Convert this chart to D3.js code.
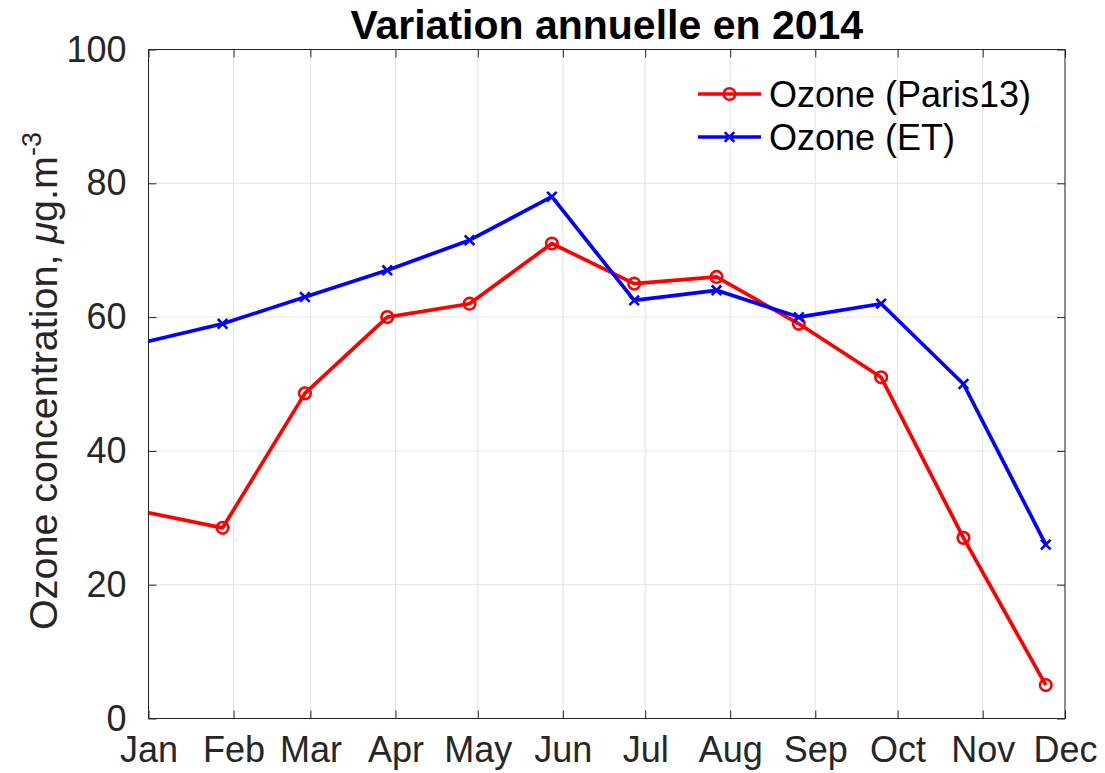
<!DOCTYPE html>
<html>
<head>
<meta charset="utf-8">
<script src="https://cdn.jsdelivr.net/npm/d3@7"></script>
<style>
  html, body { margin: 0; padding: 0; background: #fff; }
  svg text { font-family: "Liberation Sans", Arial, Helvetica, sans-serif; }
</style>
</head>
<body>
<svg id="chart" width="1105" height="773"></svg>
<script>
// ---- Data ----
const dates = ["2013-12-29", "2014-01-28", "2014-02-27", "2014-03-29", "2014-04-28", "2014-05-28",
               "2014-06-27", "2014-07-27", "2014-08-26", "2014-09-25", "2014-10-25", "2014-11-24"];
const ozoneParis13 = [31, 28.5, 48.6, 60, 62, 71, 65, 66, 59, 51, 27, 5];
const ozoneET = [56.1, 59, 63, 67, 71.5, 78, 62.5, 64, 60, 62, 50, 26];
const monthLabels = ["Jan", "Feb", "Mar", "Apr", "May", "Jun", "Jul", "Aug", "Sep", "Oct", "Nov", "Dec"];
const yTicks = [0, 20, 40, 60, 80, 100];
const seriesNames = ["Ozone (Paris13)", "Ozone (ET)"];
const titleText = "Variation annuelle en 2014";

// ---- Layout ----
const svg = d3.select("#chart");
const mLeft = 148.5, mRight = 1065, mTop = 49.5, mBottom = 718.5;
const axisColor = "#262626";
const gridColor = "#e3e3e3";
const tickLen = 8;

const parse = d3.timeParse("%Y-%m-%d");
const xDates = dates.map(parse);
const x = d3.scaleTime().domain([new Date(2014, 0, 1), new Date(2014, 11, 1)]).range([mLeft, mRight]);
const y = d3.scaleLinear().domain([0, 100]).range([mBottom, mTop]);
const monthTicks = d3.timeMonth.range(new Date(2014, 0, 1), new Date(2014, 11, 2));

// clip
svg.append("defs").append("clipPath").attr("id", "clip")
  .append("rect").attr("x", mLeft).attr("y", mTop).attr("width", mRight - mLeft).attr("height", mBottom - mTop);

// grid
const grid = svg.append("g");
grid.selectAll("line.gx").data(monthTicks).enter().append("line")
  .attr("x1", d => x(d)).attr("x2", d => x(d)).attr("y1", mTop).attr("y2", mBottom)
  .attr("stroke", gridColor).attr("stroke-width", 1);
grid.selectAll("line.gy").data(yTicks).enter().append("line")
  .attr("x1", mLeft).attr("x2", mRight).attr("y1", d => y(d)).attr("y2", d => y(d))
  .attr("stroke", gridColor).attr("stroke-width", 1);

// axes via d3 axis (ticks inward)
const fontSize = 36;
const xAxisB = svg.append("g").attr("transform", `translate(0,${mBottom})`)
  .call(d3.axisBottom(x).tickValues(monthTicks).tickFormat((d, i) => monthLabels[i])
    .tickSizeInner(-tickLen).tickSizeOuter(0).tickPadding(18));
const xAxisT = svg.append("g").attr("transform", `translate(0,${mTop})`)
  .call(d3.axisTop(x).tickValues(monthTicks).tickFormat("").tickSizeInner(-tickLen).tickSizeOuter(0));
const yAxisL = svg.append("g").attr("transform", `translate(${mLeft},0)`)
  .call(d3.axisLeft(y).tickValues(yTicks).tickFormat(d3.format("d")).tickSizeInner(-tickLen).tickSizeOuter(0).tickPadding(22));
const yAxisR = svg.append("g").attr("transform", `translate(${mRight},0)`)
  .call(d3.axisRight(y).tickValues(yTicks).tickFormat("").tickSizeInner(-tickLen).tickSizeOuter(0));

[xAxisB, xAxisT, yAxisL, yAxisR].forEach(g => {
  g.select(".domain").remove();
  g.selectAll(".tick line").attr("stroke", axisColor).attr("stroke-width", 1);
  g.selectAll("text").attr("fill", axisColor).style("font-size", fontSize + "px")
    .style("font-family", '"Liberation Sans", Arial, sans-serif');
});
xAxisB.selectAll("text").attr("dy", "0.71em");

// box
svg.append("rect").attr("x", mLeft).attr("y", mTop).attr("width", mRight - mLeft).attr("height", mBottom - mTop)
  .attr("fill", "none").attr("stroke", axisColor).attr("stroke-width", 1);

// lines
const plot = svg.append("g").attr("clip-path", "url(#clip)");
const series = [
  { name: seriesNames[0], values: ozoneParis13, color: "#ff0000", marker: "circle" },
  { name: seriesNames[1], values: ozoneET, color: "#0000ff", marker: "x" }
];
const line = d3.line().x((d, i) => x(xDates[i])).y(d => y(d));

function drawMarker(g, type, cx, cy, color) {
  if (type === "circle") {
    g.append("circle").attr("cx", cx).attr("cy", cy).attr("r", 5.8)
      .attr("fill", "none").attr("stroke", color).attr("stroke-width", 2.6);
  } else {
    const s = 4.8;
    g.append("path").attr("d", `M${cx - s},${cy - s}L${cx + s},${cy + s}M${cx - s},${cy + s}L${cx + s},${cy - s}`)
      .attr("stroke", color).attr("stroke-width", 2.6).attr("fill", "none");
  }
}

series.forEach(s => {
  plot.append("path").datum(s.values).attr("d", line)
    .attr("fill", "none").attr("stroke", s.color).attr("stroke-width", 3.7).attr("stroke-linejoin", "round");
  s.values.forEach((v, i) => drawMarker(plot, s.marker, x(xDates[i]), y(v), s.color));
});

// legend
const legend = svg.append("g");
const legendRows = [94, 137];
series.forEach((s, i) => {
  const ly = legendRows[i];
  legend.append("line").attr("x1", 698).attr("x2", 761).attr("y1", ly).attr("y2", ly)
    .attr("stroke", s.color).attr("stroke-width", 3.7);
  drawMarker(legend, s.marker, 729.5, ly, s.color);
  legend.append("text").attr("x", 769).attr("y", ly).attr("dy", "0.36em")
    .style("font-size", "36px").attr("fill", "#000").text(s.name);
});

// title
svg.append("text").attr("x", (mLeft + mRight) / 2).attr("y", 38.5).attr("text-anchor", "middle")
  .style("font-size", "41px").style("font-weight", "bold").attr("fill", "#000").text(titleText);

// y label
const yl = svg.append("text").attr("transform", `translate(57,381) rotate(-90)`)
  .attr("text-anchor", "middle").style("font-size", "39.5px").attr("fill", axisColor);
yl.append("tspan").text("Ozone concentration, ");
yl.append("tspan").style("font-style", "italic").text("μ");
yl.append("tspan").text("g.m");
yl.append("tspan").attr("dy", "-0.6em").style("font-size", "27px").text("-3");
</script>
</body>
</html>
